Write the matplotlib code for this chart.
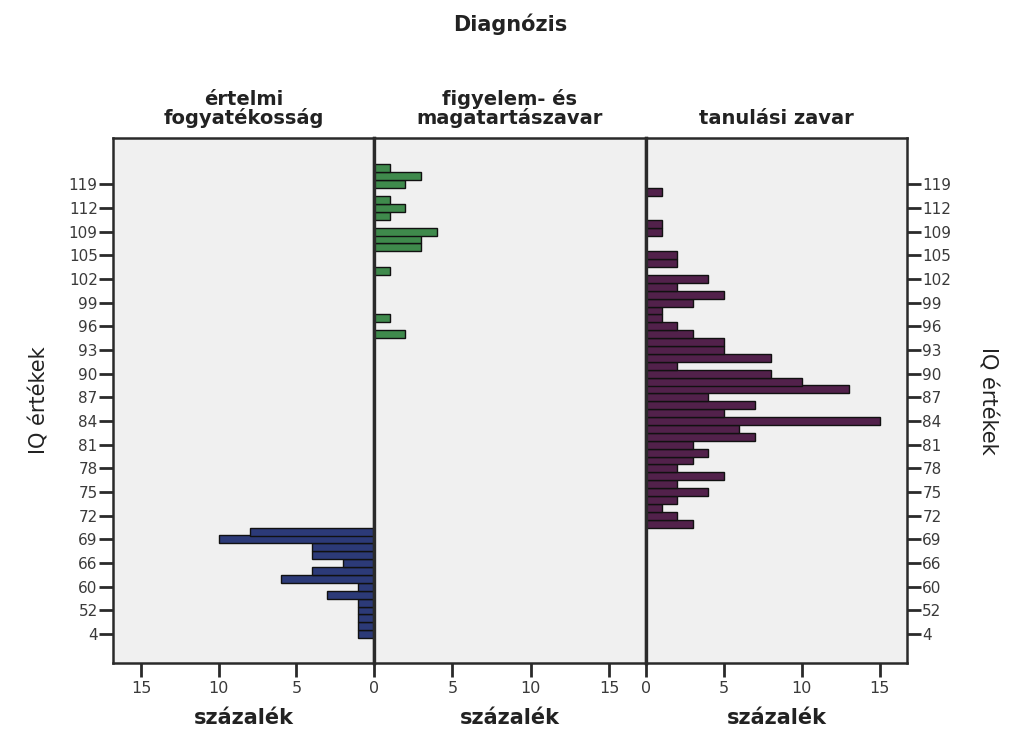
import matplotlib
matplotlib.use("Agg")
import matplotlib.pyplot as plt

# IQ categories, bottom to top (only every third one is labelled on the axis)
iq_categories = [4, 40, 48, 52, 54, 57, 60, 62, 64, 66, 67, 68, 69, 70, 71, 72,
                 73, 74, 75, 76, 77, 78, 79, 80, 81, 82, 83, 84, 85, 86, 87, 88,
                 89, 90, 91, 92, 93, 94, 95, 96, 97, 98, 99, 100, 101, 102, 103,
                 104, 105, 106, 108, 109, 110, 111, 112, 114, 117, 119, 121, 125]

group_names = ["értelmi\nfogyatékosság", "figyelem- és\nmagatartászavar", "tanulási zavar"]

ertelmi_iq = [4, 40, 48, 52, 54, 57, 60, 62, 64, 66, 67, 68, 69, 70]
ertelmi_pct = [1, 1, 1, 1, 1, 3, 1, 6, 4, 2, 4, 4, 10, 8]

figyelem_iq = [95, 97, 103, 106, 108, 109, 111, 112, 114, 119, 121, 125]
figyelem_pct = [2, 1, 1, 3, 3, 4, 1, 2, 1, 2, 3, 1]

tanulasi_iq = [71, 72, 73, 74, 75, 76, 77, 78, 79, 80, 81, 82, 83, 84, 85, 86,
               87, 88, 89, 90, 91, 92, 93, 94, 95, 96, 97, 98, 99, 100, 101,
               102, 104, 105, 109, 110, 117]
tanulasi_pct = [3, 2, 1, 2, 4, 2, 5, 2, 3, 4, 3, 7, 6, 15, 5, 7,
                4, 13, 10, 8, 2, 8, 5, 5, 3, 2, 1, 1, 3, 5, 2,
                4, 2, 2, 1, 1, 1]

x_ticks = [0, 5, 10, 15]
colors = ["#2c3a78", "#3f8a4c", "#52214b"]

W, H = 1011, 732
fig = plt.figure(figsize=(W / 100, H / 100), dpi=100)
plt.rcParams["font.family"] = ["DejaVu Sans"]


def rect(x0, y0, x1, y1):
    return [x0 / W, 1 - y1 / H, (x1 - x0) / W, (y1 - y0) / H]


pos = {v: i for i, v in enumerate(iq_categories)}
panels = [(113, 374, 16.8), (374, 646, 17.35), (646, 907, 16.75)]
data = [(ertelmi_iq, ertelmi_pct), (figyelem_iq, figyelem_pct), (tanulasi_iq, tanulasi_pct)]

frame_col = "#2a2a2a"
label_col = "#3a3a3a"
for k, ((x0, x1, xmax), (iq, pct)) in enumerate(zip(panels, data)):
    ax = fig.add_axes(rect(x0, 138, x1, 663))
    ax.set_facecolor("#f0f0f0")
    ypos = [pos[v] for v in iq]
    ax.barh(ypos, pct, height=1.0, color=colors[k], edgecolor="#111111", linewidth=1.0)
    ax.set_ylim(-3.65, 62.85)
    if k == 0:
        ax.set_xlim(xmax, 0)
        ax.set_xticks(x_ticks)
    else:
        ax.set_xlim(0, xmax)
        ax.set_xticks(x_ticks if k == 2 else x_ticks[1:])
    for s in ax.spines.values():
        s.set_color(frame_col)
        s.set_linewidth(1.8)
    ax.tick_params(axis="x", direction="out", length=10, width=2, color=frame_col,
                   labelsize=11.5, labelcolor=label_col, pad=3)
    ax.set_title(group_names[k], fontsize=14, fontweight="bold", color="#222222",
                 pad=10, linespacing=0.95)
    fig.text((x0 + x1) / 2 / W, 1 - 718 / H, "százalék", ha="center", va="center",
             fontsize=15, fontweight="bold", color="#222222")
    ticks = list(range(0, len(iq_categories), 3))
    labels = [str(iq_categories[i]) for i in ticks]
    if k == 0:
        ax.set_yticks(ticks)
        ax.set_yticklabels(labels)
        ax.tick_params(axis="y", direction="out", length=10, width=2, color=frame_col,
                       labelsize=11, labelcolor=label_col, pad=1)
        ax.set_ylabel("IQ értékek", fontsize=15, color="#222222", labelpad=14)
        ax.spines["right"].set_linewidth(2.4)
    elif k == 2:
        ax.yaxis.tick_right()
        ax.set_yticks(ticks)
        ax.set_yticklabels(labels)
        ax.tick_params(axis="y", direction="out", length=10, width=2, color=frame_col,
                       labelsize=11, labelcolor=label_col, pad=1)
        ax.yaxis.set_label_position("right")
        ax.set_ylabel("IQ értékek", fontsize=15, color="#222222", labelpad=33, rotation=270)
        ax.spines["left"].set_linewidth(2.4)
    else:
        ax.set_yticks([])
        ax.spines["left"].set_linewidth(2.4)
        ax.spines["right"].set_linewidth(2.4)

fig.text(510 / W, 1 - 24 / H, "Diagnózis", ha="center", va="center",
         fontsize=15, fontweight="bold", color="#222222")

fig.savefig("out.png", dpi=100)
